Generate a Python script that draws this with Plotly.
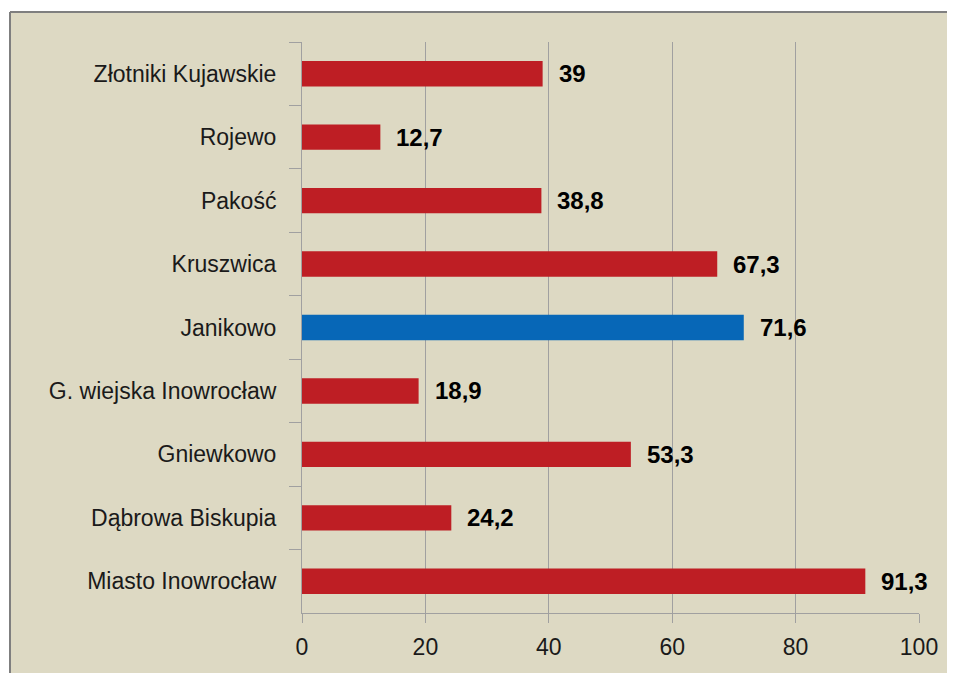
import plotly.graph_objects as go

categories = ["Złotniki Kujawskie", "Rojewo", "Pakość", "Kruszwica", "Janikowo",
              "G. wiejska Inowrocław", "Gniewkowo", "Dąbrowa Biskupia", "Miasto Inowrocław"]
values = [39, 12.7, 38.8, 67.3, 71.6, 18.9, 53.3, 24.2, 91.3]
x_ticks = [0, 20, 40, 60, 80, 100]
highlight = "Janikowo"

RED = "#BE1E24"
BLUE = "#0767B7"
BG = "#DDD9C3"
BORDER = "#7F7F7F"
FONT = "Liberation Sans"

colors = [BLUE if c == highlight else RED for c in categories]

def fmt(v):
    s = ("%g" % v)
    return s.replace(".", ",")

fig = go.Figure()
fig.add_trace(go.Bar(
    x=values, y=categories, orientation="h",
    marker=dict(color=colors, line=dict(width=0)),
    hoverinfo="x+y",
))

for c, v in zip(categories, values):
    fig.add_annotation(x=v, y=c, text="<b>%s</b>" % fmt(v), showarrow=False,
                       xanchor="left", xshift=14,
                       font=dict(family=FONT, size=24, color="#000000"))

OFF = 8  # page body margin
W, H = 955, 673
L, R, T, B = 302 - OFF, 36 + OFF, 42 - OFF, 60 + OFF
pw, ph = W - L - R, H - T - B

def px_x(p):
    return (p - OFF - L) / pw

def px_y(p):
    return (H - B - (p - OFF)) / ph

fig.add_shape(type="rect", xref="paper", yref="paper",
              x0=px_x(10), x1=px_x(1000), y0=px_y(720), y1=px_y(12),
              fillcolor=BG, line=dict(width=0), layer="below")
fig.add_shape(type="line", xref="paper", yref="paper",
              x0=px_x(10), x1=px_x(1000), y0=px_y(12), y1=px_y(12),
              line=dict(color=BORDER, width=2), layer="below")
fig.add_shape(type="line", xref="paper", yref="paper",
              x0=px_x(10), x1=px_x(10), y0=px_y(720), y1=px_y(12),
              line=dict(color=BORDER, width=2), layer="below")

fig.update_layout(
    width=W, height=H,
    margin=dict(l=L, r=R, t=T, b=B, pad=0),
    paper_bgcolor="white", plot_bgcolor=BG,
    bargap=0.6, showlegend=False,
    font=dict(family=FONT, size=23, color="#1a1a1a"),
    xaxis=dict(range=[0, 100], tickvals=x_ticks, showgrid=True, gridcolor="#A0A0A0",
               gridwidth=1, showline=True, linecolor="#A0A0A0", linewidth=1,
               ticks="outside", ticklen=9, tickcolor="#A0A0A0", zeroline=False,
               ticklabelstandoff=4, tickfont=dict(size=23)),
    yaxis=dict(autorange="reversed", type="category", showgrid=False, showline=True,
               linecolor="#A0A0A0", linewidth=1, ticks="outside", tickson="boundaries",
               ticklen=12, tickcolor="#A0A0A0", ticklabelstandoff=20,
               tickfont=dict(size=23)),
)

fig.write_html("out.html")
